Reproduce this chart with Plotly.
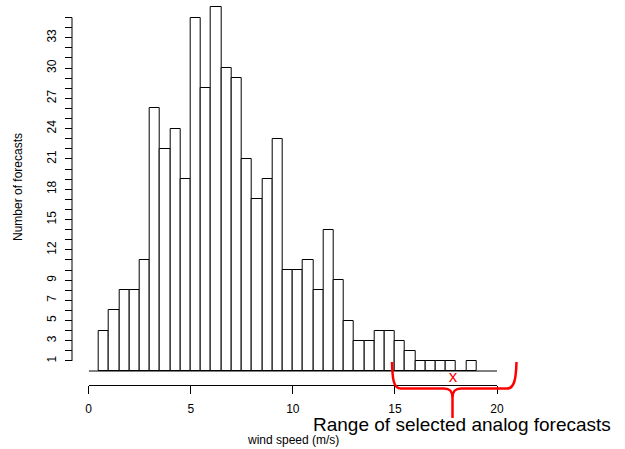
import plotly.graph_objects as go

# ---- data ----
bin_left = [0.5 + 0.5 * i for i in range(37)]          # bins of 0.5 m/s starting at 0.5
counts = [4, 6, 8, 8, 11, 26, 22, 24, 19, 35, 28, 36, 30, 29, 21, 17, 19, 23,
          10, 10, 11, 8, 14, 9, 5, 3, 3, 4, 4, 3, 2, 1, 1, 1, 1, 0, 1]
bin_width = 0.5
observed_speed = 17.85
x_tickvals = [0, 5, 10, 15, 20]
y_tickvals = list(range(1, 36))
y_labelled = [1, 3, 5, 7, 9, 12, 15, 18, 21, 24, 27, 30, 33]

# ---- layout geometry (pixels) ----
FIG_W, FIG_H = 625, 449
ML, MR, MT, MB = 72, 128, 5, 64
PW = FIG_W - ML - MR
PH = FIG_H - MT - MB
X0_PX = 88.7            # pixel of x = 0
Y0_PX = 371.0           # pixel of count = 0
K = 10.1                # pixels per count

def paper(xp, yp):
    return (xp - ML) / PW, (FIG_H - MB - yp) / PH

x_dom0 = (X0_PX - ML) / PW
y_lo = -((FIG_H - MB) - Y0_PX) / K
y_hi = (Y0_PX - MT) / K

centers = [b + bin_width / 2 for b in bin_left]

fig = go.Figure()
fig.add_trace(go.Bar(
    x=centers, y=counts, width=bin_width,
    marker=dict(color="white", line=dict(color="black", width=1)),
    showlegend=False, hoverinfo="skip",
))
fig.add_trace(go.Scatter(
    x=[observed_speed], y=[-0.62], mode="text", text=["x"],
    textfont=dict(color="red", size=17, family="Liberation Sans"),
    textposition="middle center", showlegend=False, cliponaxis=False,
))

FONT = "Liberation Sans"
fig.update_layout(
    width=FIG_W, height=FIG_H,
    margin=dict(l=ML, r=MR, t=MT, b=MB, pad=0),
    paper_bgcolor="white", plot_bgcolor="white",
    bargap=0,
    font=dict(family=FONT, size=12, color="black"),
    xaxis=dict(
        domain=[x_dom0, 1], range=[0, 20], anchor="free", position=0,
        showline=True, linecolor="black", linewidth=1,
        ticks="outside", ticklen=8, tickwidth=1, tickcolor="black",
        tickvals=x_tickvals, ticktext=[str(v) for v in x_tickvals],
        ticklabelstandoff=5,
        showgrid=False, zeroline=False, tickfont=dict(size=12),
    ),
    yaxis=dict(
        domain=[0, 1], range=[y_lo, y_hi], anchor="free", position=0,
        showline=False,
        ticks="outside", ticklen=7, tickwidth=1, tickcolor="black",
        tickvals=y_tickvals,
        ticktext=[str(v) if v in y_labelled else "" for v in y_tickvals],
        tickangle=-90, ticklabelstandoff=4,
        showgrid=False, zeroline=False, tickfont=dict(size=12),
    ),
)

# y axis line from 1 to 35
fig.add_shape(type="line", xref="paper", yref="y", x0=0, x1=0, y0=1, y1=35,
              line=dict(color="black", width=1))
# histogram baseline
fig.add_shape(type="line", xref="x", yref="y", x0=0, x1=20, y0=0, y1=0,
              line=dict(color="black", width=1))

# red curly bracket (pixel points -> paper)
def P(x, y):
    a, b = paper(x, y)
    return f"{a:.5f},{b:.5f}"

path = (
    f"M {P(392,362)} C {P(392.5,378)} {P(393,388.5)} {P(401,388.5)} "
    f"L {P(444,388.5)} C {P(450,388.5)} {P(452.5,391)} {P(452.5,398)} "
    f"L {P(452.5,418)} M {P(452.5,398)} C {P(452.5,391)} {P(455,388.5)} {P(461,388.5)} "
    f"L {P(507,388.5)} C {P(514,388.5)} {P(516,380)} {P(516.5,362)}"
)
fig.add_shape(type="path", xref="paper", yref="paper", path=path,
              line=dict(color="red", width=2.5))

xa, ya = paper(292.7, 440)
fig.add_annotation(xref="x", yref="paper", x=10, y=ya, text="wind speed (m/s)",
                   showarrow=False, font=dict(size=12), xanchor="center", yanchor="middle")
xa, ya = paper(18, 187)
fig.add_annotation(xref="paper", yref="paper", x=xa, y=ya, text="Number of forecasts",
                   textangle=-90, showarrow=False, font=dict(size=12),
                   xanchor="center", yanchor="middle")
xa, ya = paper(462, 424)
fig.add_annotation(xref="paper", yref="paper", x=xa, y=ya,
                   text="Range of selected analog forecasts",
                   showarrow=False, font=dict(size=19), xanchor="center", yanchor="middle",
                   borderpad=0)

fig.write_html("out.html", config={"displayModeBar": False},
               post_script="document.body.style.margin='0';document.body.style.overflow='hidden';")
